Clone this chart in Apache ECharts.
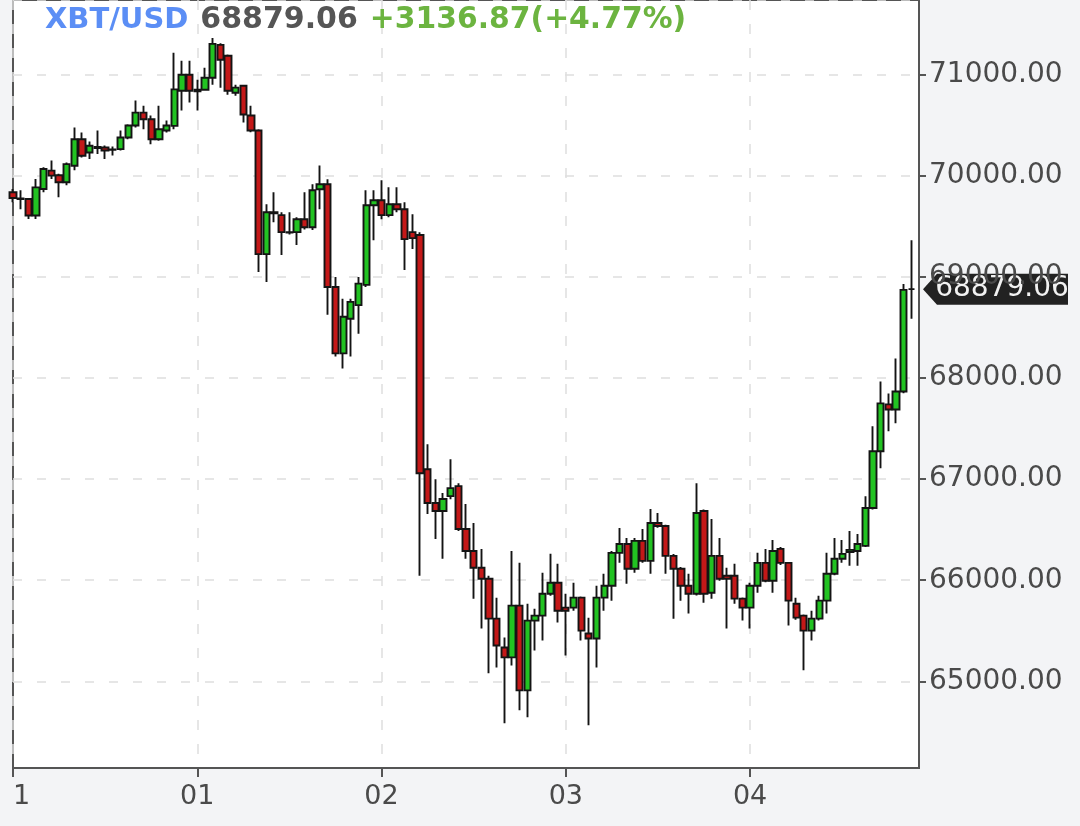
<!DOCTYPE html>
<html><head><meta charset="utf-8">
<script src="https://cdn.jsdelivr.net/npm/echarts@6/dist/echarts.min.js"></script>
<style>html,body{margin:0;padding:0;background:#f3f4f6;}#c{width:1080px;height:826px;}</style>
</head><body><div id="c"></div>
<script>
// ---- data (hourly candles) ----
const dayLabels = ['1', '01', '02', '03', '04'];
const hoursPerDay = 24;
const slotCount = 119;
const opens = [
69837,69775,69771,69608,69870,70051,70005,69936,70100,70362,
70231,70285,70280,70258,70264,70379,70497,70625,70559,70362,
70448,70494,70842,71000,70852,70852,70970,71295,71187,70822,
70891,70596,70448,69226,69640,69611,69443,69443,69571,69492,
69867,69916,68901,68244,68586,68721,68921,69709,69758,69611,
69719,69670,69443,69414,67098,66764,66685,66832,66931,66507,
66290,66123,66015,65620,65335,65237,65749,64911,65601,65650,
65867,65975,65729,65729,65828,65473,65424,65828,65946,66271,
66359,66113,66389,66192,66566,66537,66241,66113,65946,65867,
66685,65877,66241,66044,66044,65818,65729,65946,66172,65995,
66310,66172,65768,65650,65502,65620,65798,66064,66212,66280,
66290,66340,66714,67276,67739,67689,67867,68879.06];
const closes = [
69780,69771,69608,69886,70067,70002,69936,70116,70362,70199,
70297,70275,70251,70262,70379,70497,70625,70559,70362,70461,
70497,70855,71000,70842,70835,70970,71305,71148,70842,70872,
70606,70448,69226,69640,69630,69443,69438,69571,69492,69857,
69916,68901,68244,68606,68753,68934,69709,69758,69611,69719,
69670,69374,69384,67059,66764,66685,66803,66911,66507,66290,
66123,66015,65620,65355,65237,65749,64911,65601,65650,65867,
65975,65699,65699,65828,65502,65424,65828,65946,66271,66359,
66113,66389,66192,66566,66537,66241,66113,65946,65867,66665,
65867,66241,66015,66015,65818,65729,65946,66172,65995,66290,
66172,65798,65630,65502,65620,65798,66064,66212,66261,66300,
66359,66714,67276,67749,67689,67867,68872,68879.06];
const lows = [
69739,69670,69574,69574,69837,69968,69788,69906,70054,70182,
70166,70215,70166,70200,70251,70362,70477,70461,70313,70346,
70428,70461,70645,70724,70645,70842,70901,70872,70803,70793,
70527,70430,69049,68950,69542,69217,69420,69315,69470,69463,
69670,68625,68212,68094,68212,68438,68901,69364,69571,69591,
69640,69069,69276,66044,66655,66409,66212,66800,66488,66212,
65818,65522,65079,65138,64586,65158,64714,64645,65305,65404,
65847,65581,65256,65699,65404,64566,65138,65699,65798,66172,
65966,66074,66172,66064,66520,66064,65620,65798,65670,65850,
65778,65818,65995,65522,65768,65601,65522,65877,65980,65877,
66150,65552,65610,65109,65404,65601,65670,66050,66172,66143,
66143,66330,66700,67108,67473,67552,67850,68586];
const highs = [
69870,69857,69780,69968,70084,70152,70020,70133,70477,70428,
70340,70448,70300,70290,70448,70510,70744,70694,70596,70694,
70547,71217,71138,71138,70950,71069,71364,71310,71200,70901,
70900,70694,70460,69719,69837,69640,69640,69591,69837,69916,
70103,69965,69000,68783,68783,69000,69857,69857,69955,69886,
69886,69739,69620,69443,67345,67000,66862,67197,66960,66754,
66566,66310,66044,65828,65434,66290,66172,65768,65719,66074,
66261,66162,65867,65975,65840,65630,65946,66064,66290,66517,
66419,66419,66507,66704,66665,66550,66260,66130,66064,66960,
66700,66606,66419,66123,66162,65830,65975,66271,66310,66399,
66330,66180,65828,65660,65699,65847,66271,66419,66399,66488,
66458,66832,67522,67965,67847,68192,68931,69364];
const lastPrice = 68879.06;
const change = 3136.87;
const changePct = 4.77;
const yMin = 64143, yMax = 71739;

const categories = [];
for (let i = 0; i < slotCount; i++) {
  const d = Math.floor(i / hoursPerDay), h = i % hoursPerDay;
  categories.push(dayLabels[d] + ' ' + String(h).padStart(2, '0') + ':00');
}
const candles = opens.map((o, i) => [o, closes[i], lows[i], highs[i]]);
const isDay = (idx) => idx % hoursPerDay === 0;

const FONT = 'DejaVu Sans';
const chart = echarts.init(document.getElementById('c'), null, {renderer: 'canvas'});
chart.setOption({
  animation: false,
  backgroundColor: '#f3f4f6',
  title: {
    left: 45, top: 5, padding: 0,
    text: '{a|XBT/USD}{b|' + lastPrice.toFixed(2) + '}{c|+' + change.toFixed(2) + '(+' + changePct.toFixed(2) + '%)}',
    textStyle: {
      rich: {
        a: {color: '#5b8ef5', fontFamily: FONT, fontWeight: 'bold', fontSize: 29},
        b: {color: '#555555', fontFamily: FONT, fontWeight: 'bold', fontSize: 30, padding: [0, 0, 0, 12]},
        c: {color: '#6cb440', fontFamily: FONT, fontWeight: 'bold', fontSize: 29.8, padding: [0, 0, 0, 12]}
      }
    }
  },
  grid: {
    left: 13, right: 161, top: -3, bottom: 58,
    show: true, backgroundColor: '#ffffff', borderColor: '#555', borderWidth: 2
  },
  xAxis: {
    type: 'category', data: categories, boundaryGap: false,
    axisLine: {show: true, lineStyle: {color: '#555', width: 2}},
    axisTick: {show: true, interval: isDay, length: 9, lineStyle: {color: '#555', width: 2}},
    axisLabel: {
      interval: isDay, margin: 15, color: '#4a4a4a', fontFamily: FONT, fontSize: 27,
      alignMinLabel: 'left',
      formatter: (v, idx) => isDay(idx) ? dayLabels[idx / hoursPerDay] : ''
    },
    splitLine: {show: true, interval: isDay, lineStyle: {color: '#dedede', type: [10, 14], width: 1.5}}
  },
  yAxis: {
    type: 'value', position: 'right', min: yMin, max: yMax, splitNumber: 8, scale: true,
    axisLine: {show: true, lineStyle: {color: '#555', width: 2}},
    axisTick: {show: true, length: 7, lineStyle: {color: '#555', width: 2}},
    axisLabel: {
      margin: 10, color: '#4a4a4a', fontFamily: FONT, fontSize: 28,
      showMinLabel: false, showMaxLabel: false,
      formatter: (v) => v.toFixed(2)
    },
    splitLine: {show: true, lineStyle: {color: '#dedede', type: [9, 15], width: 1.5}}
  },
  series: [{
    type: 'candlestick', data: candles, barWidth: 6.8, clip: true,
    itemStyle: {
      color: '#22c322', color0: '#c41818',
      borderColor: '#141414', borderColor0: '#141414', borderColorDoji: '#141414',
      borderWidth: 1.9
    }
  }]
});

const py = chart.convertToPixel({yAxisIndex: 0}, lastPrice);
chart.setOption({
  graphic: [{
    type: 'group', z: 100,
    children: [
      {type: 'polygon', shape: {points: [[923, py], [937, py - 15.5], [1068, py - 15.5], [1068, py + 15.5], [937, py + 15.5]]},
       style: {fill: '#222222'}},
      {type: 'text', x: 1002, y: py,
       style: {text: lastPrice.toFixed(2), fill: '#f2f2f2', font: '28px "DejaVu Sans"', textAlign: 'center', textVerticalAlign: 'middle'}}
    ]
  }]
});
</script></body></html>
